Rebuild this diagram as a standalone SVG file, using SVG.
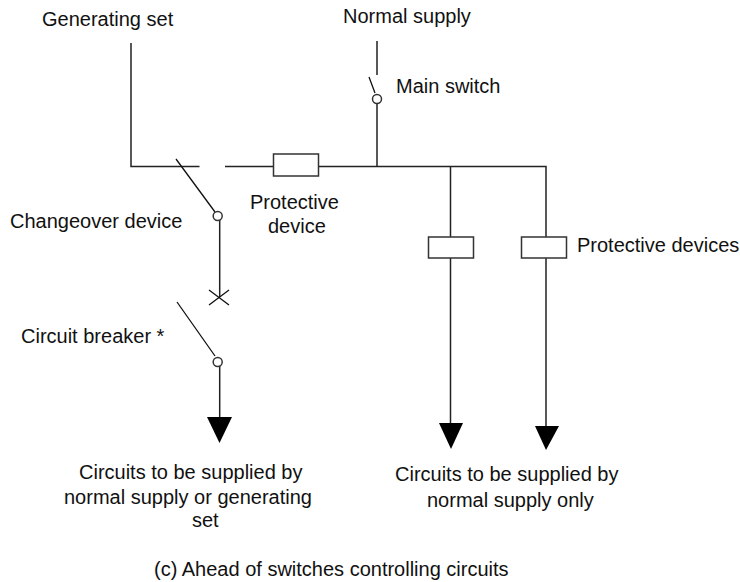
<svg xmlns="http://www.w3.org/2000/svg" width="740" height="582" viewBox="0 0 740 582">
<style>
text{font-family:"Liberation Sans",Arial,sans-serif;font-size:20px;fill:#111}
.l{fill:none;stroke:#222;stroke-width:1.5}
.t{fill:none;stroke:#111;stroke-width:1.3}
.b{fill:#fff;stroke:#333;stroke-width:1.5}
.h{fill:#000;stroke:none}
</style>
<rect width="740" height="582" fill="#fff"/>
<g id="connectors">
<path class="l" d="M131 43V166.500H199.500M225 166.500H377M377 41V75M377 103V166.500M377 166.500H546V237M450.500 166.500V237M450.500 258V425M546 258V428M219.700 220V297M219.700 366V418"/>
<path class="t" d="M176 159L215 212M369 77L375 93M177 302L215 356M209 290L229 305M229 290L209 305"/>
</g>
<g id="generating-set"><text x="42" y="26">Generating set</text></g>
<g id="normal-supply"><text x="343" y="23">Normal supply</text></g>
<g id="main-switch"><circle class="b" cx="377" cy="99" r="4.500"/><text x="396" y="93">Main switch</text></g>
<g id="protective-device"><rect class="b" x="273.500" y="154" width="45" height="22"/><text x="250" y="209">Protective</text><text x="268" y="233">device</text></g>
<g id="changeover-device"><circle class="b" cx="217.700" cy="216" r="4.500"/><text x="10" y="228">Changeover device</text></g>
<g id="circuit-breaker"><circle class="b" cx="217.700" cy="362" r="4.500"/><text x="21" y="343">Circuit breaker *</text></g>
<g id="protective-devices"><rect class="b" x="428.500" y="237" width="45" height="21"/><rect class="b" x="521.500" y="237" width="45" height="21"/><text x="577" y="252">Protective devices</text></g>
<g id="load-left"><polygon class="h" points="207,417 232,417 219.500,443"/><text x="79" y="479">Circuits to be supplied by</text><text x="64" y="504">normal supply or generating</text><text x="192" y="527">set</text></g>
<g id="load-middle"><polygon class="h" points="439,423 463,423 451,449"/><text x="395" y="481">Circuits to be supplied by</text><text x="427" y="507">normal supply only</text></g>
<g id="load-right"><polygon class="h" points="535,426 559,426 546,450"/></g>
<g id="caption"><text x="154" y="576">(c) Ahead of switches controlling circuits</text></g>
</svg>
